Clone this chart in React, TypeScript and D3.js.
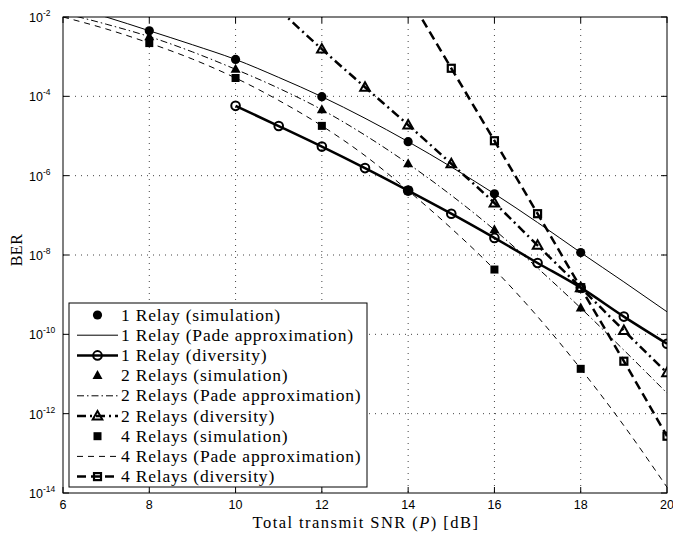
import React from 'react';
import * as d3 from 'd3';

// SNR grids (dB)
const snrSim = [8, 10, 12, 14, 16, 18];
const snrPade = [6, 7, 8, 9, 10, 11, 12, 13, 14, 15, 16, 17, 18, 19, 20];
const snrDiv1 = [10, 11, 12, 13, 14, 15, 16, 17, 18, 19, 20];
const snrDiv2 = [11, 12, 13, 14, 15, 16, 17, 18, 19, 20];
const snrDiv4 = [14, 15, 16, 17, 18, 19, 20];

// simulation points
const sim1 = [4.5e-3, 8.5e-4, 9.8e-5, 7.2e-6, 3.5e-7, 1.15e-8];
const sim2 = [3.2e-3, 4.8e-4, 4.6e-5, 2.0e-6, 4.3e-8, 4.6e-10];
const sim4 = [2.2e-3, 2.9e-4, 1.8e-5, 4.2e-7, 4.3e-9, 1.35e-11];

// Pade approximation curves
const pade1 = [2.0e-2, 1.0e-2, 4.5e-3, 2.0e-3, 8.5e-4, 3.0e-4, 9.8e-5, 2.8e-5, 7.2e-6, 1.66e-6, 3.5e-7, 6.6e-8, 1.15e-8, 2.1e-9, 3.7e-10];
const pade2 = [1.26e-2, 6.6e-3, 3.2e-3, 1.32e-3, 4.8e-4, 1.6e-4, 4.6e-5, 1.05e-5, 2.0e-6, 3.2e-7, 4.3e-8, 4.7e-9, 4.6e-10, 4.0e-11, 3.3e-12];
const pade4 = [1.0e-2, 5.0e-3, 2.2e-3, 8.7e-4, 2.9e-4, 7.9e-5, 1.8e-5, 3.2e-6, 4.2e-7, 4.7e-8, 4.3e-9, 2.8e-10, 1.35e-11, 5.0e-13, 1.4e-14];

// diversity asymptotes
const div1 = [5.75e-5, 1.78e-5, 5.4e-6, 1.55e-6, 4.2e-7, 1.1e-7, 2.7e-8, 6.3e-9, 1.5e-9, 2.8e-10, 5.8e-11];
const div2 = [1.55e-2, 1.55e-3, 1.7e-4, 1.9e-5, 2.0e-6, 2.05e-7, 1.75e-8, 1.5e-9, 1.25e-10, 1.07e-11];
const div4 = [3.5e-2, 5.1e-4, 7.6e-6, 1.1e-7, 1.5e-9, 2.1e-11, 2.7e-13];

const xTicks = [6, 8, 10, 12, 14, 16, 18, 20];
const yExps = [-2, -4, -6, -8, -10, -12, -14];

const legendLabels = [
  '1 Relay (simulation)',
  '1 Relay (Pade approximation)',
  '1 Relay (diversity)',
  '2 Relays (simulation)',
  '2 Relays (Pade approximation)',
  '2 Relays (diversity)',
  '4 Relays (simulation)',
  '4 Relays (Pade approximation)',
  '4 Relays (diversity)',
];

const W = 673, H = 536;
const left = 63, right = 667, top = 17, bottom = 493;
const serif = '"Liberation Serif", "DejaVu Serif", serif';
const sans = '"Liberation Sans", Arial, sans-serif';

const x = d3.scaleLinear().domain([6, 20]).range([left, right]);
const y = d3.scaleLog().domain([1e-14, 1e-2]).range([bottom, top]);

type Style = { width: number; dash?: string; marker?: string };

const styles: Style[] = [
  { width: 0, marker: 'circle' },
  { width: 1 },
  { width: 2.5, marker: 'ocircle' },
  { width: 0, marker: 'tri' },
  { width: 1, dash: '7 3 1.5 3' },
  { width: 2.5, dash: '9 4 2 4', marker: 'otri' },
  { width: 0, marker: 'square' },
  { width: 1, dash: '6 5' },
  { width: 2.5, dash: '9 5', marker: 'osquare' },
];

function Marker({ kind, cx, cy }: { kind: string; cx: number; cy: number }) {
  const t = `translate(${cx},${cy})`;
  if (kind === 'circle') return <circle cx={cx} cy={cy} r={4.6} fill="#000" />;
  if (kind === 'ocircle') return <circle cx={cx} cy={cy} r={4.3} fill="none" stroke="#000" strokeWidth={2} />;
  if (kind === 'tri') return <path transform={t} d="M0,-5.5L5,3.5L-5,3.5Z" fill="#000" />;
  if (kind === 'otri') return <path transform={t} d="M0,-5L4.8,3.5L-4.8,3.5Z" fill="none" stroke="#000" strokeWidth={2} strokeLinejoin="miter" />;
  if (kind === 'square') return <rect x={cx - 4} y={cy - 4} width={8} height={8} fill="#000" />;
  if (kind === 'osquare') return <rect x={cx - 3.5} y={cy - 3.5} width={7} height={7} fill="none" stroke="#000" strokeWidth={2.2} />;
  return null;
}

export default function App() {
  const line = d3.line<[number, number]>().x(d => x(d[0])).y(d => y(d[1])).curve(d3.curveMonotoneX);

  const series: { xs: number[]; ys: number[]; s: Style }[] = [
    { xs: snrSim, ys: sim1, s: styles[0] },
    { xs: snrPade, ys: pade1, s: styles[1] },
    { xs: snrDiv1, ys: div1, s: styles[2] },
    { xs: snrSim, ys: sim2, s: styles[3] },
    { xs: snrPade, ys: pade2, s: styles[4] },
    { xs: snrDiv2, ys: div2, s: styles[5] },
    { xs: snrSim, ys: sim4, s: styles[6] },
    { xs: snrPade, ys: pade4, s: styles[7] },
    { xs: snrDiv4, ys: div4, s: styles[8] },
  ];

  const lg = { x: 69, y: 303, w: 298, h: 184, row: 20.2 };

  return (
    <svg width={W} height={H} style={{ position: 'absolute', left: 0, top: 0, background: '#fff' }}>
      <defs>
        <clipPath id="plot">
          <rect x={left} y={top} width={right - left} height={bottom - top} />
        </clipPath>
      </defs>
      <rect x={0} y={0} width={W} height={H} fill="#fff" />

      {/* grid */}
      <g stroke="#444" strokeWidth={1} strokeDasharray="1 5">
        {xTicks.slice(1, -1).map(t => (
          <line key={'gx' + t} x1={x(t)} x2={x(t)} y1={top} y2={bottom} />
        ))}
        {yExps.slice(1, -1).map(e => (
          <line key={'gy' + e} x1={left} x2={right} y1={y(Math.pow(10, e))} y2={y(Math.pow(10, e))} />
        ))}
      </g>

      {/* series */}
      <g clipPath="url(#plot)">
        {series.map((sr, i) => {
          const pts = sr.xs.map((v, j) => [v, sr.ys[j]] as [number, number]);
          return (
            <g key={i}>
              {sr.s.width > 0 && (
                <path d={line(pts) || ''} fill="none" stroke="#000" strokeWidth={sr.s.width} strokeDasharray={sr.s.dash} />
              )}
              {sr.s.marker && pts.map((p, j) => <Marker key={j} kind={sr.s.marker!} cx={x(p[0])} cy={y(p[1])} />)}
            </g>
          );
        })}
      </g>

      {/* frame and ticks */}
      <rect x={left} y={top} width={right - left} height={bottom - top} fill="none" stroke="#000" strokeWidth={1} />
      <g stroke="#000" strokeWidth={1}>
        {xTicks.map(t => (
          <g key={'tx' + t}>
            <line x1={x(t)} x2={x(t)} y1={bottom} y2={bottom - 6} />
            <line x1={x(t)} x2={x(t)} y1={top} y2={top + 6} />
          </g>
        ))}
        {yExps.map(e => (
          <g key={'ty' + e}>
            <line x1={left} x2={left + 6} y1={y(Math.pow(10, e))} y2={y(Math.pow(10, e))} />
            <line x1={right} x2={right - 6} y1={y(Math.pow(10, e))} y2={y(Math.pow(10, e))} />
          </g>
        ))}
      </g>

      {/* tick labels */}
      <g fontFamily={sans} fill="#000">
        {xTicks.map(t => (
          <text key={'lx' + t} x={x(t)} y={509} textAnchor="middle" fontSize={12.5}>{t}</text>
        ))}
        {yExps.map(e => (
          <text key={'ly' + e} x={29} y={y(Math.pow(10, e)) + 5} fontSize={12.5}>
            10<tspan fontSize={8.5} dy={-6}>{e}</tspan>
          </text>
        ))}
      </g>

      {/* axis titles */}
      <text x={366} y={528} textAnchor="middle" fontFamily={serif} fontSize={16.5} letterSpacing={1.45}>
        Total transmit SNR (<tspan fontStyle="italic">P</tspan>) [dB]
      </text>
      <text transform="translate(22,250) rotate(-90)" textAnchor="middle" fontFamily={serif} fontSize={16} letterSpacing={0.5}>BER</text>

      {/* legend */}
      <rect x={lg.x} y={lg.y} width={lg.w} height={lg.h} fill="#fff" stroke="#000" strokeWidth={1} />
      {legendLabels.map((lab, i) => {
        const s = styles[i];
        const cy = lg.y + 12 + i * lg.row;
        return (
          <g key={lab}>
            {s.width > 0 && (
              <line x1={77} x2={118} y1={cy} y2={cy} stroke="#000" strokeWidth={s.width} strokeDasharray={s.dash} />
            )}
            {s.marker && <Marker kind={s.marker} cx={97.5} cy={cy} />}
            <text x={121} y={cy + 5.5} fontFamily={serif} fontSize={17.5} letterSpacing={0.8}>{lab}</text>
          </g>
        );
      })}
    </svg>
  );
}
